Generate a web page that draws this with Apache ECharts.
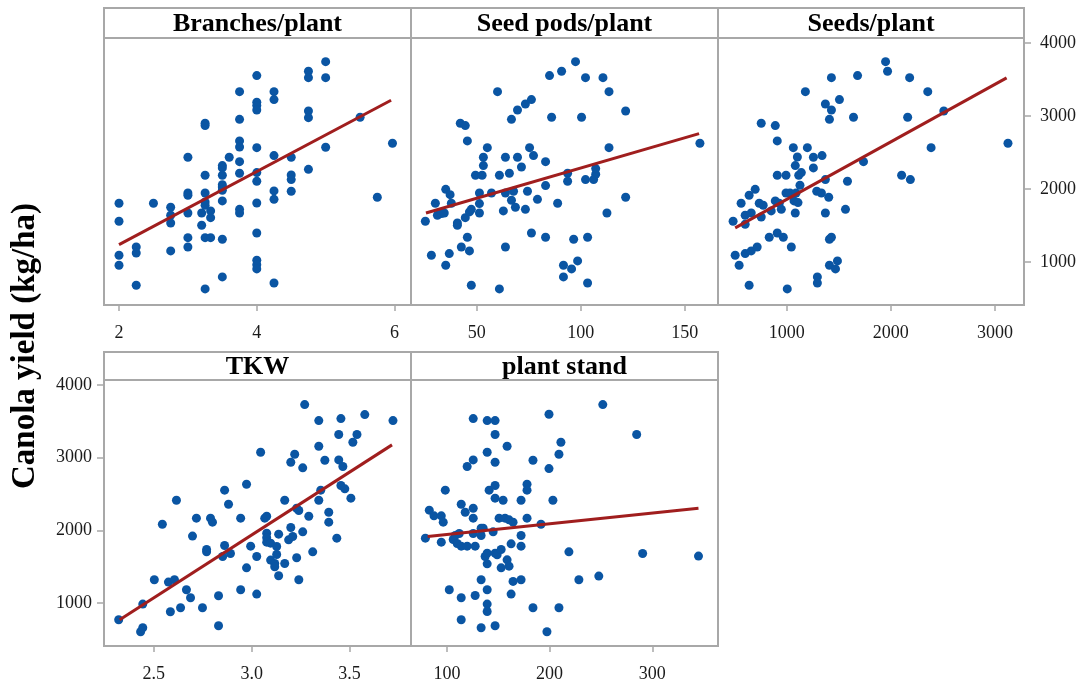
<!DOCTYPE html>
<html><head><meta charset="utf-8">
<script src="https://cdn.jsdelivr.net/npm/echarts@6/dist/echarts.min.js"></script>
<style>html,body{margin:0;padding:0;background:#fff}#c{width:1090px;height:684px}</style>
</head><body><div id="c"></div>
<script>
// ---------- data ----------
const panelTitles = ['Branches/plant', 'Seed pods/plant', 'Seeds/plant', 'TKW', 'plant stand'];
const yTitle = 'Canola yield (kg/ha)';
const yTicks = [1000, 2000, 3000, 4000];
const branchTicks = [2, 4, 6];
const podTicks = [50, 100, 150];
const seedTicks = [1000, 2000, 3000];
const tkwTicks = [2.5, 3.0, 3.5];
const standTicks = [100, 200, 300];

const branchX = [2,2,2,2, 2.25,2.25,2.25, 2.5, 2.75,2.75,2.75,2.75, 3,3,3,3,3,3, 3.2,3.2,
  3.25,3.25,3.25,3.25,3.25,3.25,3.25,3.25, 3.33,3.33,3.33,
  3.5,3.5,3.5,3.5,3.5,3.5,3.5,3.5,3.5, 3.6,
  3.75,3.75,3.75,3.75,3.75,3.75,3.75,3.75,
  4,4,4,4,4,4,4,4,4,4,4,4,
  4.25,4.25,4.25,4.25,4.25,4.25, 4.5,4.5,4.5,4.5,
  4.75,4.75,4.75,4.75,4.75, 5,5,5, 5.5, 5.75, 5.97];
const branchY = [1804,1557,1091,954, 1205,1123,680, 1804, 1749,1639,1534,1151, 2434,1945,1913,1671,1333,1205, 1502,1671,
  2900,2868,2187,1945,1822,1776,1333,630, 1699,1607,1333,
  2320,2288,2187,2059,2027,1982,1836,1311,795, 2434,
  3333,2954,2658,2575,2374,2215,1721,1671,
  3553,3187,3142,3082,2566,2224,2105,1808,1397,1023,963,904,
  3333,3224,2457,1973,1858,712, 2434,2192,2128,1968,
  3612,3525,3068,2977,2269, 3744,3525,2571, 2982, 1886, 2626];

const podX = [25.3,28.2,30.1,31.1,33.0,34.4,35.1,35.1,36.8,37.2,37.8,40.7,40.7,42.1,42.6,44.5,44.5,45.5,45.5,46.5,46.5,47.4,47.4,49.4,
  51.3,51.3,51.3,52.6,53.2,53.2,55.1,57.1,60.0,60.9,60.9,62.8,63.8,63.8,63.8,65.7,66.7,66.7,67.7,68.6,69.6,69.6,71.5,73.4,73.4,74.4,
  75.4,76.3,76.3,77.3,79.2,83.1,83.1,83.1,85.0,86.0,88.9,90.8,91.7,91.7,93.7,93.7,95.6,96.6,97.5,98.5,100.4,102.3,102.3,103.3,103.3,
  106.2,107.2,107.2,110.7,112.6,113.6,113.6,121.6,121.6,157.3];
const podY = [1557,1091,1804,1639,1662,1671,1995,954,1114,1922,1804,1534,1502,2900,1205,2868,1607,2658,1338,1151,1685,1721,680,2187,
  1945,1799,1671,2187,2320,2434,2566,1945,3333,2187,630,1699,2434,1945,1205,2215,2954,1845,1968,1749,3082,2434,2301,1721,3164,1968,
  2566,3224,1397,2457,1858,2374,2046,1338,3553,2982,1804,3612,954,795,2215,2105,904,1311,3744,1014,2982,3525,2128,1338,712,
  2128,2201,2279,3525,1671,3333,2566,3068,1886,2626];

const seedX = [486,506,544,563,602,602,602,640,640,660,660,698,717,737,756,756,775,833,852,891,891,910,910,910,929,949,968,994,994,1006,
  1032,1045,1064,1071,1083,1083,1090,1103,1109,1116,1128,1141,1180,1199,1257,1257,1289,1295,1295,1334,1340,1372,1372,1372,1404,1411,1411,1411,
  1430,1430,1430,1469,1488,1507,1565,1584,1642,1681,1738,1950,1969,2104,2162,2181,2188,2355,2387,2509,3125];
const seedY = [1557,1091,954,1804,1639,1516,1114,1913,680,1151,1671,1995,1205,1804,2900,1616,1776,1338,1699,2868,1836,2658,2187,1397,1804,1721,1338,2187,1945,630,
  1945,1205,2566,1836,2320,1671,1945,2438,1813,2187,2050,2224,3333,2566,2434,2288,1968,795,712,1945,2457,3164,2128,1671,1886,2954,1311,954,
  3525,3082,1338,904,1014,3224,1721,2105,2982,3553,2374,3744,3612,2187,2982,3525,2128,3333,2566,3068,2626];

const tkwX = [2.321,2.433,2.444,2.444,2.503,2.544,2.575,2.585,2.606,2.616,2.637,2.667,2.688,2.698,2.718,2.749,2.770,2.770,2.790,2.800,
  2.831,2.831,2.862,2.862,2.852,2.882,2.892,2.944,2.944,2.974,2.974,2.995,3.026,3.026,3.046,3.067,3.077,3.077,3.077,3.077,
  3.097,3.097,3.118,3.118,3.128,3.128,3.138,3.138,3.169,3.169,3.189,3.200,3.200,3.210,3.220,3.230,3.230,3.241,3.241,3.261,3.261,3.271,
  3.292,3.312,3.343,3.343,3.343,3.353,3.374,3.394,3.394,3.435,3.445,3.445,3.456,3.456,3.466,3.476,3.507,3.517,3.538,3.578,3.722];
const tkwY = [771,606,661,986,1321,2085,1289,881,1321,2415,936,1183,1073,1921,2168,936,1737,1705,2168,2113,
  1101,688,2553,1792,1641,2360,1682,2168,1183,2635,1485,1783,1641,1124,3075,2168,2195,1962,1898,1838,
  1824,1591,1545,1499,1779,1669,1948,1376,2415,1545,1870,2937,2040,1916,3047,1623,2305,2273,1321,2860,1980,3730,
  2195,1705,3510,3157,2415,2553,2965,2250,2113,1893,3318,2969,3537,2617,2878,2571,2443,3212,3318,3592,3510];

const standX = [79.0,82.8,87.4,94.5,94.5,96.4,98.4,102.3,106.1,108.1,110.0,112.0,113.9,113.9,113.9,113.9,117.8,119.7,119.7,
  125.6,125.6,125.6,125.6,125.6,127.5,127.5,133.3,133.3,133.3,133.3,135.3,137.2,139.2,139.2,139.2,139.2,139.2,139.2,139.2,141.1,145.0,
  146.9,146.9,146.9,146.9,146.9,146.9,146.9,148.9,150.8,152.8,152.8,154.7,156.6,158.6,158.6,160.5,160.5,162.5,162.5,164.4,164.4,
  172.2,172.2,172.2,172.2,178.0,178.0,178.0,183.8,183.8,191.6,199.4,199.4,203.2,209.1,209.1,211.0,197.4,218.8,228.5,247.9,251.8,284.8,290.6,345.0];
const standY = [1893,2278,2200,1838,2200,2113,2553,1183,1875,1930,1820,1957,2360,1783,1073,771,2250,1783,2878,
  3537,2969,2305,2168,1957,1783,1105,2031,1930,1321,661,2031,1641,3510,3075,1687,1540,1183,986,885,2553,1980,
  3510,3318,2937,2617,2443,1687,688,1664,2168,1737,1485,2415,2168,3157,1595,2145,1508,1815,1124,2113,1298,
  2415,1930,1783,1321,2635,2553,2168,2965,936,2085,3597,2850,2415,3047,936,3212,606,1705,1321,1371,3730,3318,1682,1646];

// fitted regression lines (end points)
const branchFitX = [2.0, 5.95],  branchFitY = [1237, 3215];
const podFitX    = [25.6, 156.9], podFitY    = [1671, 2758];
const seedFitX   = [506, 3112],   seedFitY   = [1466, 3521];
const tkwFitX    = [2.326, 3.717], tkwFitY   = [771, 3176];
const standFitX  = [81.2, 345],   standFitY  = [1916, 2305];

// ---------- layout ----------
const zip = (a, b) => a.map((v, i) => [v, b[i]]);
const panels = [
  {x: branchX, y: branchY, fx: branchFitX, fy: branchFitY, ticks: branchTicks, min: 1.782, max: 6.239, fmt: v => String(v),
   grid: {left: 104, top: 38, width: 307, height: 267}, yPos: null},
  {x: podX, y: podY, fx: podFitX, fy: podFitY, ticks: podTicks, min: 18.4, max: 166, fmt: v => String(v),
   grid: {left: 411, top: 38, width: 307, height: 267}, yPos: null},
  {x: seedX, y: seedY, fx: seedFitX, fy: seedFitY, ticks: seedTicks, min: 341, max: 3279, fmt: v => String(v),
   grid: {left: 718, top: 38, width: 306, height: 267}, yPos: 'right'},
  {x: tkwX, y: tkwY, fx: tkwFitX, fy: tkwFitY, ticks: tkwTicks, min: 2.246, max: 3.814, fmt: v => v.toFixed(1),
   grid: {left: 104, top: 380, width: 307, height: 266}, yPos: 'left'},
  {x: standX, y: standY, fx: standFitX, fy: standFitY, ticks: standTicks, min: 65, max: 364, fmt: v => String(v),
   grid: {left: 411, top: 380, width: 307, height: 266}, yPos: null}
];
const headerTop = [8, 8, 8, 352, 352];

const FRAME = '#a8a8a8';
const FONT = '"Liberation Serif", "Times New Roman", serif';
const labelStyle = {fontFamily: FONT, fontSize: 18, color: '#1a1a1a'};

const option = {
  backgroundColor: '#fff',
  animation: false,
  grid: panels.map(p => Object.assign({show: true, borderColor: FRAME, borderWidth: 2, backgroundColor: 'transparent',
    containLabel: false, outerBoundsMode: 'none'}, p.grid)),
  xAxis: panels.map((p, i) => ({
    type: 'value', gridIndex: i, min: p.min, max: p.max,
    axisLine: {show: false}, splitLine: {show: false},
    axisTick: {show: true, customValues: p.ticks, length: 6, lineStyle: {color: FRAME, width: 1.5}},
    axisLabel: Object.assign({customValues: p.ticks, margin: 19, formatter: p.fmt}, labelStyle)
  })),
  yAxis: panels.map((p, i) => ({
    type: 'value', gridIndex: i, min: 410, max: 4068, show: !!p.yPos, position: p.yPos || 'left',
    axisLine: {show: false}, splitLine: {show: false},
    axisTick: {show: true, customValues: yTicks, length: 7, lineStyle: {color: FRAME, width: 1.5}},
    axisLabel: Object.assign({customValues: yTicks, margin: p.yPos === 'right' ? 16 : 12,
      formatter: v => String(v)}, labelStyle)
  })),
  series: panels.flatMap((p, i) => [
    {type: 'scatter', xAxisIndex: i, yAxisIndex: i, data: zip(p.x, p.y), symbolSize: 9,
     itemStyle: {color: '#0a55a3', opacity: 1}, z: 2},
    {type: 'line', xAxisIndex: i, yAxisIndex: i, data: zip(p.fx, p.fy), symbol: 'none',
     lineStyle: {color: '#a01e1e', width: 3}, z: 3, silent: true}
  ]),
  graphic: panels.flatMap((p, i) => {
    const g = p.grid, top = headerTop[i], h = g.top - top;
    return [
      {type: 'rect', shape: {x: g.left, y: top, width: g.width, height: h},
       style: {fill: '#fff', stroke: FRAME, lineWidth: 2}, z: 10},
      {type: 'text', x: g.left + g.width / 2, y: top + h / 2 + 1, z: 11,
       style: {text: panelTitles[i], align: 'center', verticalAlign: 'middle',
               font: 'bold 26px ' + FONT, fill: '#000'}}
    ];
  }).concat([
    {type: 'text', x: 25, y: 346, rotation: Math.PI / 2, z: 11,
     style: {text: yTitle, align: 'center', verticalAlign: 'middle', font: 'bold 33px ' + FONT, fill: '#000'}}
  ])
};

const chart = echarts.init(document.getElementById('c'), null, {renderer: 'canvas'});
chart.setOption(option);
</script>
</body></html>
